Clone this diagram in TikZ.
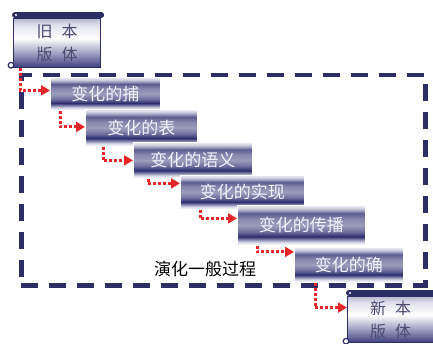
\documentclass[tikz,border=0pt]{standalone}
\usepackage{fontspec}
\newfontfamily\cjk{Noto Sans CJK SC}
\usetikzlibrary{arrows.meta}
\definecolor{navyA}{HTML}{2E2E66}
\definecolor{arrred}{HTML}{E8262A}
\definecolor{boxtext}{HTML}{F2F2FA}
\definecolor{scrolltext}{HTML}{4A4A72}
\definecolor{bsA}{HTML}{D8D8E8}
\definecolor{bsB}{HTML}{2C2C6E}
\definecolor{bsC}{HTML}{6E6E9E}
\definecolor{bsD}{HTML}{9C9CBC}
\definecolor{bsE}{HTML}{8888AE}
\definecolor{bsF}{HTML}{5C5C90}
\definecolor{bsG}{HTML}{CACADE}
\definecolor{bsH}{HTML}{EEEEF6}
\definecolor{ssA}{HTML}{3C3C7C}
\definecolor{ssB}{HTML}{9494BA}
\definecolor{ssC}{HTML}{E2E2EE}
\definecolor{ssD}{HTML}{B8B8D0}
\pgfdeclareverticalshading{boxshade}{100bp}{color(0bp)=(white); color(25bp)=(white); color(29bp)=(bsA); color(36bp)=(bsB); color(42bp)=(bsC); color(50bp)=(bsD); color(58bp)=(bsE); color(65bp)=(bsF); color(71bp)=(bsG); color(75bp)=(bsH); color(100bp)=(bsH)}
\pgfdeclareverticalshading{scrollshade}{100bp}{color(0bp)=(ssA); color(25bp)=(ssA); color(38bp)=(ssB); color(55bp)=(white); color(68bp)=(ssC); color(75bp)=(ssD); color(100bp)=(ssD)}
\begin{document}
\begin{tikzpicture}[x=1pt,y=-1pt,
  box/.style={anchor=north west, inner sep=0pt, shading=boxshade, draw=white, line width=0.8pt, text=boxtext, font=\cjk\fontsize{17}{20}\selectfont},
  scrollbody/.style={anchor=north west, inner sep=0pt, shading=scrollshade, draw=navyA, line width=1.2pt, text=scrolltext, align=center, font=\cjk\fontsize{16}{23}\selectfont},
  scrollbar/.style={fill=navyA, rounded corners=3pt},
  curl/.style={draw=navyA, line width=1.2pt, fill=white},
  flow/.style={draw=arrred, line width=3pt, dash pattern=on 3pt off 2pt, -{Triangle[length=9pt,width=10pt]}},
  frameline/.style={draw=navyA, line width=4.5pt, dash pattern=on 17pt off 11pt, anchor=north west, inner sep=0pt},
]
\useasboundingbox (0,0) rectangle (433,343);
\clip (0,0) rectangle (433,343);
\fill[white] (0,0) rectangle (433,343);

% old version scroll
\node[scrollbody, minimum width=87pt, minimum height=49pt] (s1) at (13,18) {旧\hspace{9pt}本\\版\hspace{9pt}体};
\fill[scrollbar] ([xshift=-1pt,yshift=6pt]s1.north west) rectangle ([xshift=3pt]s1.north east);
\fill[white] ([xshift=3pt,yshift=3pt]s1.north west) circle (1.2pt);
\draw[curl] ([xshift=-2pt,yshift=3pt]s1.south west) circle (2.8pt);

% boxes
\node[box, minimum width=110pt, minimum height=33pt] (b1) at (50,77) {变化的捕};
\node[box, minimum width=112pt, minimum height=37pt] (b2) at (85,109) {变化的表};
\node[box, minimum width=119pt, minimum height=36pt] (b3) at (133,142) {变化的语义};
\node[box, minimum width=124pt, minimum height=34pt] (b4) at (180,175) {变化的实现};
\node[box, minimum width=128pt, minimum height=40pt] (b5) at (237,205) {变化的传播};
\node[box, minimum width=109pt, minimum height=35pt] (b6) at (294,247) {变化的确};

% frame
\node[frameline, minimum width=404pt, minimum height=210.5pt] (frame) at (19,72.5) {};
\node[font=\cjk\fontsize{17}{20}\selectfont] (lbl) at (205,269) {演化一般过程};

% new version scroll
\node[scrollbody, minimum width=86pt, minimum height=46pt] (s2) at (347,296) {新\hspace{9pt}本\\版\hspace{9pt}体};
\fill[scrollbar] ([xshift=-1pt,yshift=6pt]s2.north west) rectangle ([xshift=6pt]s2.north east);
\fill[white] ([xshift=3pt,yshift=3pt]s2.north west) circle (1.2pt);
\draw[curl] ([xshift=-1pt,yshift=2pt]s2.south west) circle (2.8pt);

% arrows
\draw[flow] ([xshift=7pt]s1.south west) |- ([yshift=3.5pt]b1.west);
\draw[flow] ([xshift=10pt]b1.south west) |- ([yshift=1pt]b2.west);
\draw[flow] ([xshift=18pt]b2.south west) |- (b3.west);
\draw[flow] ([xshift=15pt]b3.south west) |- ([yshift=9pt]b4.west);
\draw[flow] ([xshift=20pt]b4.south west) |- ([yshift=7pt]b5.west);
\draw[flow] ([xshift=20pt]b5.south west) |- ([yshift=13pt]b6.west);
\draw[flow] ([xshift=21pt]b6.south west) |- ([yshift=12pt]s2.west);
\end{tikzpicture}
\end{document}
